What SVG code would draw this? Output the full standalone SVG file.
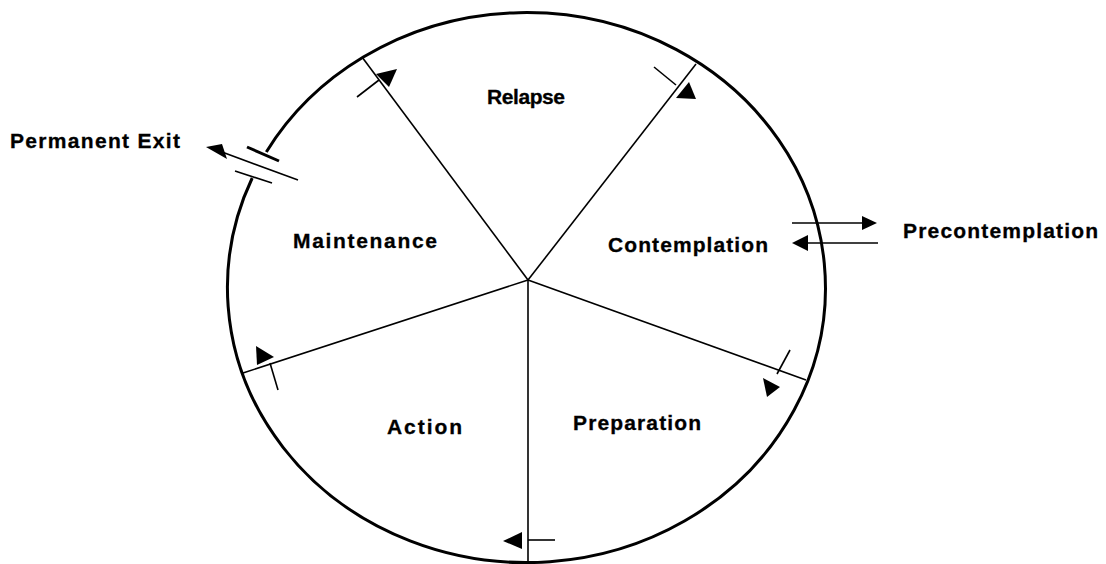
<svg xmlns="http://www.w3.org/2000/svg" width="1106" height="564" viewBox="0 0 1106 564">
<style>
.lbl{font-family:"Liberation Sans",Arial,sans-serif;font-weight:bold;font-size:21px;fill:#000;stroke:#000;stroke-width:0.3}
.rim{fill:none;stroke:#000;stroke-width:3}
.ln{stroke:#000;stroke-width:1.6;fill:none}
.ah{fill:#000;stroke:none}
</style>
<rect width="1106" height="564" fill="#fff"/>
<g id="wheel">
<path class="rim" d="M266.3,152 A299,275 0 1 1 252.2,178"/>
</g>
<g id="connectors">
<line class="ln" x1="528" y1="280" x2="362" y2="57"/>
<line class="ln" x1="528" y1="280" x2="696" y2="64"/>
<line class="ln" x1="528" y1="280" x2="806" y2="380"/>
<line class="ln" x1="528" y1="280" x2="528" y2="562"/>
<line class="ln" x1="528" y1="280" x2="243" y2="373"/>
<!-- Maintenance -> Relapse -->
<line class="ln" x1="357" y1="97" x2="379" y2="80"/>
<polygon class="ah" points="376,74 389,87 397,69"/>
<!-- Relapse -> Contemplation -->
<line class="ln" x1="654" y1="67" x2="676" y2="85"/>
<polygon class="ah" points="676,98 689,82 696,99"/>
<!-- Contemplation -> Preparation -->
<line class="ln" x1="790" y1="350" x2="777" y2="374"/>
<polygon class="ah" points="763,378 780,387 767,397"/>
<!-- Preparation -> Action -->
<line class="ln" x1="528" y1="540" x2="555" y2="540"/>
<polygon class="ah" points="503,541 522,532 522,549"/>
<!-- Action -> Maintenance -->
<line class="ln" x1="278" y1="390" x2="270" y2="363"/>
<polygon class="ah" points="256,346 257,365 274,357"/>
<!-- Permanent Exit -->
<line x1="247" y1="147" x2="279" y2="161" stroke="#000" stroke-width="3"/>
<line class="ln" x1="222" y1="152" x2="298" y2="180"/>
<polygon class="ah" points="206,147 222,144 227,159"/>
<line class="ln" x1="235" y1="171" x2="272" y2="183"/>
<!-- Precontemplation -->
<line class="ln" x1="792" y1="223" x2="863" y2="223"/>
<polygon class="ah" points="862,216 877,223 862,230"/>
<line class="ln" x1="807" y1="243" x2="878" y2="243"/>
<polygon class="ah" points="792,243 808,235 808,251"/>
</g>
<g id="relapse"><text class="lbl" x="487" y="104" textLength="78" lengthAdjust="spacing">Relapse</text></g>
<g id="permanent-exit"><text class="lbl" x="10" y="148" textLength="170" lengthAdjust="spacing">Permanent Exit</text></g>
<g id="maintenance"><text class="lbl" x="293" y="248" textLength="144" lengthAdjust="spacing">Maintenance</text></g>
<g id="contemplation"><text class="lbl" x="608" y="252" textLength="160" lengthAdjust="spacing">Contemplation</text></g>
<g id="precontemplation"><text class="lbl" x="903" y="238" textLength="195" lengthAdjust="spacing">Precontemplation</text></g>
<g id="action"><text class="lbl" x="387" y="434" textLength="75" lengthAdjust="spacing">Action</text></g>
<g id="preparation"><text class="lbl" x="573" y="430" textLength="128" lengthAdjust="spacing">Preparation</text></g>
</svg>
